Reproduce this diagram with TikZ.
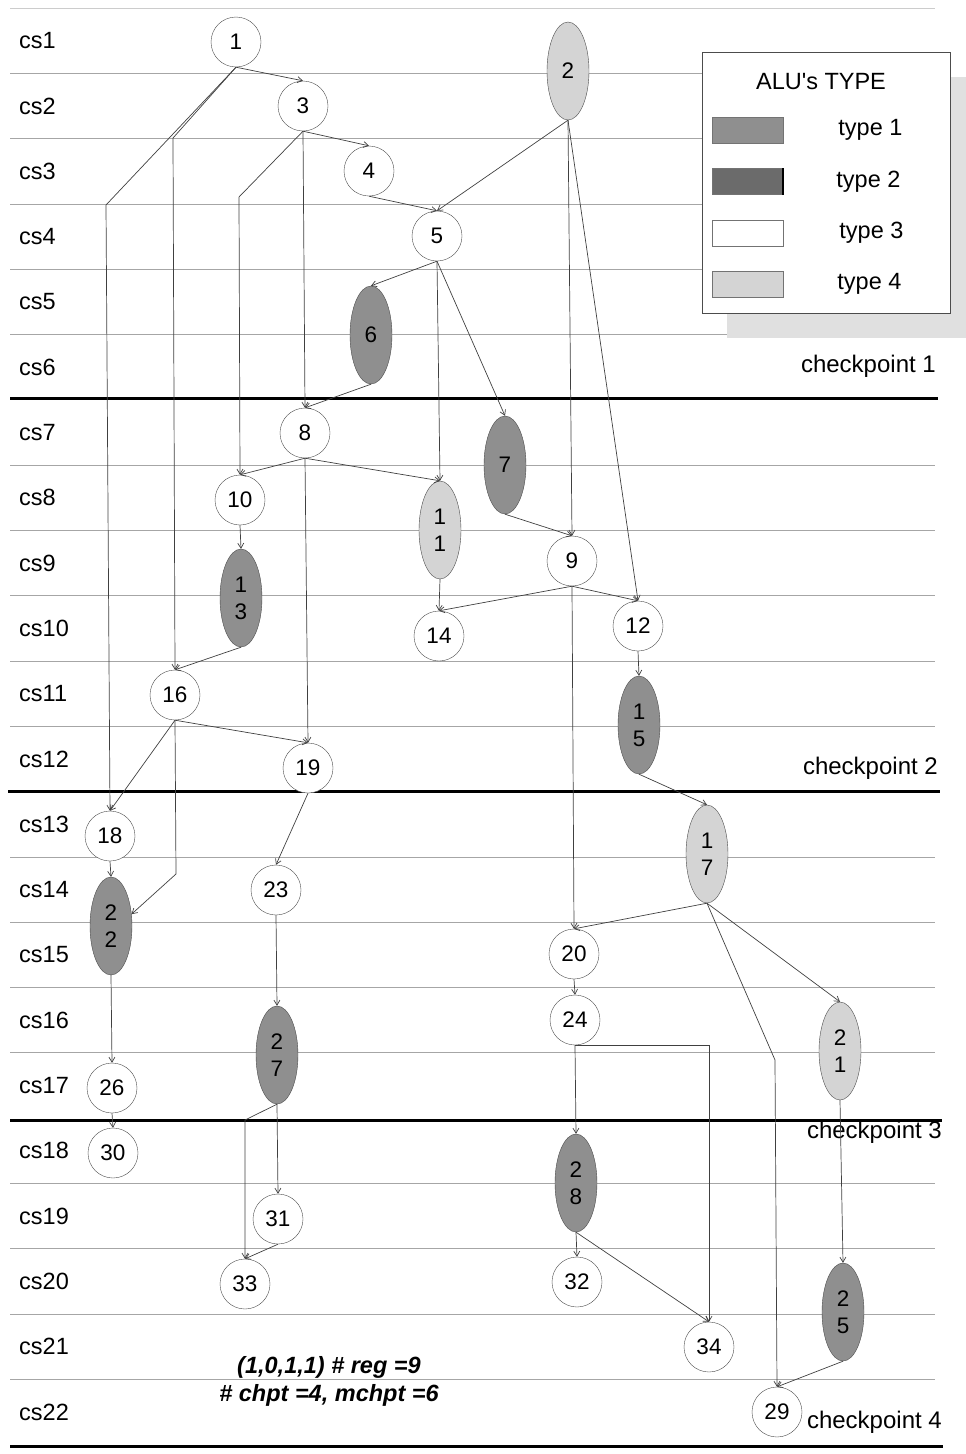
\documentclass[tikz,border=0pt]{standalone}
\usepackage{fontspec}
\setmainfont{Liberation Sans}[Ligatures=TeXOff]
\usetikzlibrary{shapes.geometric, positioning, arrows.meta}
\definecolor{aluone}{gray}{0.56}
\definecolor{alutwo}{gray}{0.42}
\definecolor{alufour}{gray}{0.83}
\tikzset{
  op/.style       = {circle, draw=black!70, fill=white, minimum size=50pt, inner sep=0pt, font=\fontsize{22.5}{27}\selectfont},
  slow/.style     = {ellipse, draw=black!70, minimum width=42pt, minimum height=98pt, inner sep=0pt, align=center, font=\fontsize{22.5}{27}\selectfont},
  opone/.style    = {slow, fill=aluone},
  opfour/.style   = {slow, fill=alufour},
  link/.style     = {line width=0.7pt, draw=black!75, -{Straight Barb[length=5pt,width=6pt]}},
  csrow/.style    = {line width=0.8pt, draw=black!35},
  chkline/.style  = {line width=3pt, draw=black},
  cslabel/.style  = {anchor=west, inner sep=0pt, font=\fontsize{23.5}{28}\selectfont},
  chklabel/.style = {anchor=east, inner sep=0pt, font=\fontsize{24}{28}\selectfont},
  swatch/.style   = {rectangle, draw=black!55, minimum width=71pt, minimum height=26pt, inner sep=0pt},
  typelbl/.style  = {inner sep=0pt, font=\fontsize{23.5}{28}\selectfont}
}

\begin{document}
\begin{tikzpicture}[x=1pt, y=-1pt]
  \useasboundingbox (0,0) rectangle (966,1454);

  % control steps
  \draw[csrow, black!20] (10,8) -- (935,8);
  \foreach \k in {1,2,3,4,5,7,8,9,10,11,13,14,15,16,18,19,20,21}
    \draw[csrow] (10,{8+65.3*\k}) -- (935,{8+65.3*\k});
  \foreach \k in {1,...,22}
    \node[cslabel] (cs\k) at (19,{8+65.3*(\k-0.5)}) {cs\k};

  % checkpoints
  \draw[chkline] (10,398) -- (938,398);
  \draw[chkline] (8,791) -- (940,791);
  \draw[chkline] (10,1120) -- (942,1120);
  \draw[chkline] (10,1446) -- (943,1446);
  \node[chklabel] (cp1) at (936,366) {checkpoint 1};
  \node[chklabel] (cp2) at (938,768) {checkpoint 2};
  \node[chklabel] (cp3) at (942,1132) {checkpoint 3};
  \node[chklabel] (cp4) at (942,1422) {checkpoint 4};

  % legenda
  \fill[black!12] (727,77) rectangle (966,338);
  \node[draw=black!70, fill=white, minimum width=248pt, minimum height=261pt, anchor=north west] (legend) at (702,52) {};
  \node[typelbl] (alutitle) at (821,82) {ALU's TYPE};
  \node[swatch, fill=aluone] (sw1) at (747.5,130) {};
  \node[swatch, fill=alutwo, below=25pt of sw1] (sw2) {};
  \node[swatch, fill=white, below=25pt of sw2] (sw3) {};
  \node[swatch, fill=alufour, below=25pt of sw3] (sw4) {};
  \draw[line width=2pt] (sw2.north east) -- (sw2.south east);
  \node[typelbl, right=55pt of sw1] (t1) {type 1};
  \node[typelbl, right=53pt of sw2] (t2) {type 2};
  \node[typelbl, right=56pt of sw3] (t3) {type 3};
  \node[typelbl, right=54pt of sw4] (t4) {type 4};

  % operations
  \node[op]     (n1)  at (236,42)   {1};
  \node[opfour] (n2)  at (568,71)   {2};
  \node[op]     (n3)  at (303,106)  {3};
  \node[op]     (n4)  at (369,171)  {4};
  \node[op]     (n5)  at (437,236)  {5};
  \node[opone]  (n6)  at (371,335)  {6};
  \node[opone]  (n7)  at (505,465)  {7};
  \node[op]     (n8)  at (305,433)  {8};
  \node[op]     (n9)  at (572,561)  {9};
  \node[op]     (n10) at (240,500)  {10};
  \node[opfour] (n11) at (440,530)  {1\\1};
  \node[op]     (n12) at (638,626)  {12};
  \node[opone]  (n13) at (241,598)  {1\\3};
  \node[op]     (n14) at (439,636)  {14};
  \node[opone]  (n15) at (639,725)  {1\\5};
  \node[op]     (n16) at (175,695)  {16};
  \node[opfour] (n17) at (707,854)  {1\\7};
  \node[op]     (n18) at (110,836)  {18};
  \node[op]     (n19) at (308,768)  {19};
  \node[op]     (n20) at (574,954)  {20};
  \node[opfour] (n21) at (840,1051) {2\\1};
  \node[opone]  (n22) at (111,926)  {2\\2};
  \node[op]     (n23) at (276,890)  {23};
  \node[op]     (n24) at (575,1020) {24};
  \node[opone]  (n25) at (843,1312) {2\\5};
  \node[op]     (n26) at (112,1088) {26};
  \node[opone]  (n27) at (277,1055) {2\\7};
  \node[opone]  (n28) at (576,1183) {2\\8};
  \node[op]     (n29) at (777,1412) {29};
  \node[op]     (n30) at (113,1153) {30};
  \node[op]     (n31) at (278,1219) {31};
  \node[op]     (n32) at (577,1282) {32};
  \node[op]     (n33) at (245,1284) {33};
  \node[op]     (n34) at (709,1347) {34};

  % dependencies
  \draw[link] (n1.south) -- (n3.north);
  \draw[link] (n1.south) -- (173,138) -- (n16.north);
  \draw[link] (n1.south) -- (106,205) -- (n18.north);
  \draw[link] (n3.south) -- (n4.north);
  \draw[link] (n3.south) -- (239,197) -- (n10.north);
  \draw[link] (n3.south) -- (n8.north);
  \draw[link] (n4.south) -- (n5.north);
  \draw[link] (n2.south) -- (n5.north);
  \draw[link] (n2.south) -- (n9.north);
  \draw[link] (n2.south) -- (n12.north);
  \draw[link] (n5.south) -- (n6.north);
  \draw[link] (n5.south) -- (n11.north);
  \draw[link] (n5.south) -- (n7.north);
  \draw[link] (n6.south) -- (n8.north);
  \draw[link] (n8.south) -- (n10.north);
  \draw[link] (n8.south) -- (n11.north);
  \draw[link] (n8.south) -- (n19.north);
  \draw[link] (n7.south) -- (n9.north);
  \draw[link] (n10.south) -- (n13.north);
  \draw[link] (n11.south) -- (n14.north);
  \draw[link] (n9.south) -- (n14.north);
  \draw[link] (n9.south) -- (n12.north);
  \draw[link] (n9.south) -- (n20.north);
  \draw[link] (n12.south) -- (n15.north);
  \draw[link] (n13.south) -- (n16.north);
  \draw[link] (n16.south) -- (n18.north);
  \draw[link] (n16.south) -- (n19.north);
  \draw[link] (n16.south) -- (176,874) -- (n22.30);
  \draw[link] (n15.south) -- (n17.north);
  \draw[link] (n18.south) -- (n22.north);
  \draw[link] (n19.south) -- (n23.north);
  \draw[link] (n17.south) -- (n20.north);
  \draw[link] (n17.south) -- (n21.north);
  \draw[link] (n17.south) -- (775,1060) -- (n29.north);
  \draw[link] (n20.south) -- (n24.north);
  \draw[link] (n22.south) -- (n26.north);
  \draw[link] (n23.south) -- (n27.north);
  \draw[link] (n24.south) -- (n28.north);
  \draw[link] (n24.south) -| (n34.north);
  \draw[link] (n21.south) -- (n25.north);
  \draw[link] (n26.south) -- (n30.north);
  \draw[link] (n27.south) -- (n31.north);
  \draw[link] (n27.south) -- (245,1120) -- (n33.north);
  \draw[link] (n31.south) -- (n33.north);
  \draw[link] (n28.south) -- (n32.north);
  \draw[link] (n28.south) -- (n34.north);
  \draw[link] (n25.south) -- (n29.north);

  % risultato
  \node[align=center, inner sep=0pt, font=\fontsize{23.5}{28}\selectfont\bfseries\itshape] (note) at (329,1381)
    {(1,0,1,1) \# reg =9\\\# chpt =4, mchpt =6};

\end{tikzpicture}
\end{document}
